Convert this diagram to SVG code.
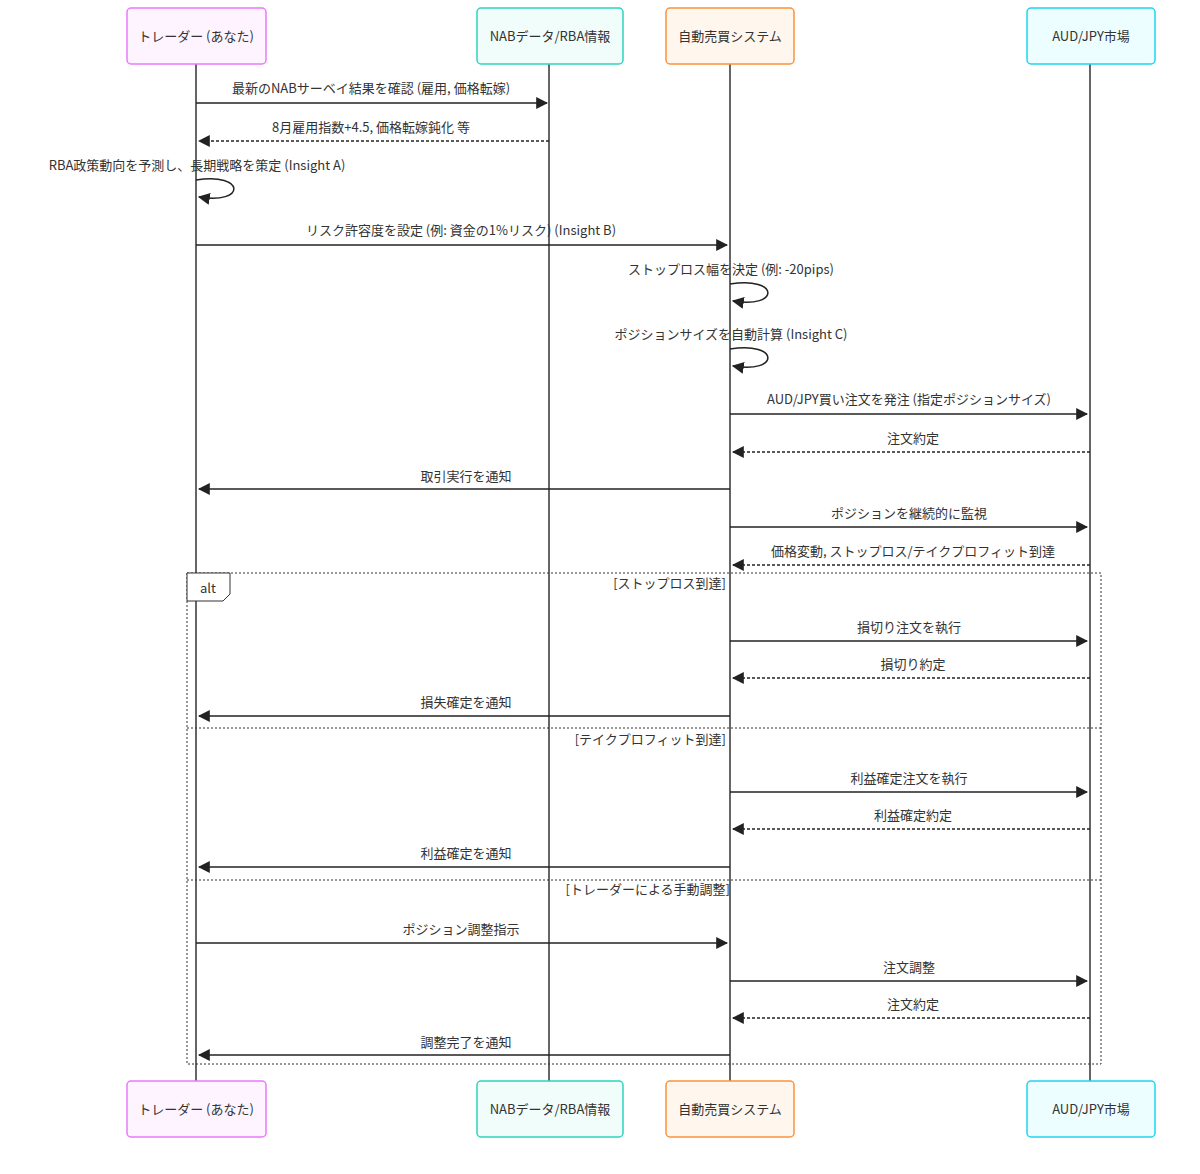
<svg xmlns="http://www.w3.org/2000/svg" width="1200" height="1174" viewBox="0 0 1200 1174">
<style>
text{font-family:"Noto Sans CJK JP","Noto Sans",sans-serif;font-size:13px;fill:#333;}
.lbl{text-anchor:middle;}
.life{stroke:#333;stroke-width:1.5;}
.msg{stroke:#222;stroke-width:1.5;fill:none;}
.dash{stroke-dasharray:3,2;}
.frame{fill:none;stroke:#333;stroke-width:1;stroke-dasharray:2,2;}
.pt{fill:#fdf4ff;stroke:#e879f9;stroke-width:1.5;}
.pn{fill:#f0fdfa;stroke:#2dd4bf;stroke-width:1.5;}
.ps{fill:#fff7ed;stroke:#fb923c;stroke-width:1.5;}
.pm{fill:#ecfeff;stroke:#22d3ee;stroke-width:1.5;}
.pl{text-anchor:middle;font-size:13px;}
</style>
<defs>
<marker id="ah" viewBox="0 0 10 10" refX="9" refY="5" markerWidth="8" markerHeight="8" orient="auto-start-reverse"><path d="M0,0 L10,5 L0,10 z" fill="#222"/></marker>
</defs>
<g id="lifelines">
<line class="life" x1="196" y1="64" x2="196" y2="1081"/>
<line class="life" x1="549" y1="64" x2="549" y2="1081"/>
<line class="life" x1="730" y1="64" x2="730" y2="1081"/>
<line class="life" x1="1090" y1="64" x2="1090" y2="1081"/>
</g>
<g id="trader"><rect class="pt" x="127" y="8" width="139" height="56" rx="4"/><text class="pl" x="196" y="41">トレーダー (あなた)</text>
<rect class="pt" x="127" y="1081" width="139" height="56" rx="4"/><text class="pl" x="196" y="1114">トレーダー (あなた)</text></g>
<g id="nab"><rect class="pn" x="477" y="8" width="146" height="56" rx="4"/><text class="pl" x="550" y="41">NABデータ/RBA情報</text>
<rect class="pn" x="477" y="1081" width="146" height="56" rx="4"/><text class="pl" x="550" y="1114">NABデータ/RBA情報</text></g>
<g id="system"><rect class="ps" x="666" y="8" width="128" height="56" rx="4"/><text class="pl" x="730" y="41">自動売買システム</text>
<rect class="ps" x="666" y="1081" width="128" height="56" rx="4"/><text class="pl" x="730" y="1114">自動売買システム</text></g>
<g id="market"><rect class="pm" x="1027" y="8" width="128" height="56" rx="4"/><text class="pl" x="1091" y="41">AUD/JPY市場</text>
<rect class="pm" x="1027" y="1081" width="128" height="56" rx="4"/><text class="pl" x="1091" y="1114">AUD/JPY市場</text></g>
<g id="alt-frame">
<rect class="frame" x="187" y="573" width="914" height="491"/>
<line class="frame" x1="187" y1="728" x2="1101" y2="728"/>
<line class="frame" x1="187" y1="880" x2="1101" y2="880"/>
<path d="M187,573 H230 V594 L223,601 H187 Z" fill="#fff" stroke="#333" stroke-width="1"/>
<text x="208" y="593" class="lbl">alt</text>
<text x="726" y="588" text-anchor="end">[ストップロス到達]</text>
<text x="726" y="744" text-anchor="end">[テイクプロフィット到達]</text>
<text x="730" y="894" text-anchor="end">[トレーダーによる手動調整]</text>
</g>
<g id="connectors">
<line class="msg" x1="196" y1="103" x2="547" y2="103" marker-end="url(#ah)"/>
<text class="lbl" x="371" y="93">最新のNABサーベイ結果を確認 (雇用, 価格転嫁)</text>
<line class="msg dash" x1="549" y1="141" x2="199" y2="141" marker-end="url(#ah)"/>
<text class="lbl" x="371" y="132">8月雇用指数+4.5, 価格転嫁鈍化 等</text>
<path class="msg" d="M196,180 C246,172 246,205 199,197" marker-end="url(#ah)"/>
<text class="lbl" x="197" y="170">RBA政策動向を予測し、長期戦略を策定 (Insight A)</text>
<line class="msg" x1="196" y1="245" x2="727" y2="245" marker-end="url(#ah)"/>
<text class="lbl" x="461" y="235">リスク許容度を設定 (例: 資金の1%リスク) (Insight B)</text>
<path class="msg" d="M730,284 C780,276 780,309 733,301" marker-end="url(#ah)"/>
<text class="lbl" x="731" y="274">ストップロス幅を決定 (例: -20pips)</text>
<path class="msg" d="M730,349 C780,341 780,374 733,366" marker-end="url(#ah)"/>
<text class="lbl" x="731" y="339">ポジションサイズを自動計算 (Insight C)</text>
<line class="msg" x1="730" y1="414" x2="1087" y2="414" marker-end="url(#ah)"/>
<text class="lbl" x="909" y="404">AUD/JPY買い注文を発注 (指定ポジションサイズ)</text>
<line class="msg dash" x1="1090" y1="452" x2="733" y2="452" marker-end="url(#ah)"/>
<text class="lbl" x="913" y="443">注文約定</text>
<line class="msg" x1="730" y1="489" x2="199" y2="489" marker-end="url(#ah)"/>
<text class="lbl" x="466" y="481">取引実行を通知</text>
<line class="msg" x1="730" y1="527" x2="1087" y2="527" marker-end="url(#ah)"/>
<text class="lbl" x="909" y="518">ポジションを継続的に監視</text>
<line class="msg dash" x1="1090" y1="565" x2="733" y2="565" marker-end="url(#ah)"/>
<text class="lbl" x="913" y="556">価格変動, ストップロス/テイクプロフィット到達</text>
<line class="msg" x1="730" y1="641" x2="1087" y2="641" marker-end="url(#ah)"/>
<text class="lbl" x="909" y="632">損切り注文を執行</text>
<line class="msg dash" x1="1090" y1="678" x2="733" y2="678" marker-end="url(#ah)"/>
<text class="lbl" x="913" y="669">損切り約定</text>
<line class="msg" x1="730" y1="716" x2="199" y2="716" marker-end="url(#ah)"/>
<text class="lbl" x="466" y="707">損失確定を通知</text>
<line class="msg" x1="730" y1="792" x2="1087" y2="792" marker-end="url(#ah)"/>
<text class="lbl" x="909" y="783">利益確定注文を執行</text>
<line class="msg dash" x1="1090" y1="829" x2="733" y2="829" marker-end="url(#ah)"/>
<text class="lbl" x="913" y="820">利益確定約定</text>
<line class="msg" x1="730" y1="867" x2="199" y2="867" marker-end="url(#ah)"/>
<text class="lbl" x="466" y="858">利益確定を通知</text>
<line class="msg" x1="196" y1="943" x2="727" y2="943" marker-end="url(#ah)"/>
<text class="lbl" x="461" y="934">ポジション調整指示</text>
<line class="msg" x1="730" y1="981" x2="1087" y2="981" marker-end="url(#ah)"/>
<text class="lbl" x="909" y="972">注文調整</text>
<line class="msg dash" x1="1090" y1="1018" x2="733" y2="1018" marker-end="url(#ah)"/>
<text class="lbl" x="913" y="1009">注文約定</text>
<line class="msg" x1="730" y1="1055" x2="199" y2="1055" marker-end="url(#ah)"/>
<text class="lbl" x="466" y="1047">調整完了を通知</text>
</g>
</svg>
